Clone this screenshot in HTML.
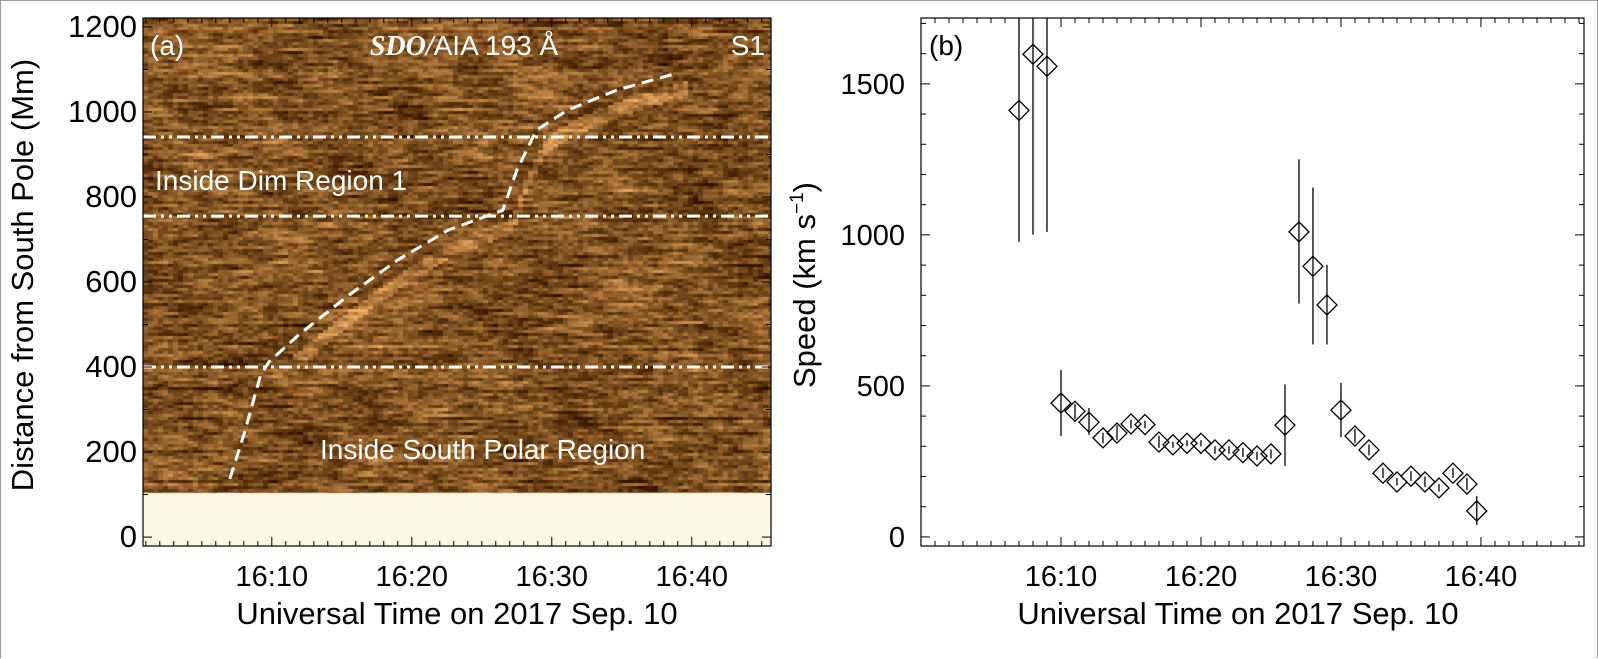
<!DOCTYPE html>
<html><head><meta charset="utf-8">
<style>
html,body{margin:0;padding:0;background:#fff;}
body{width:1598px;height:659px;position:relative;overflow:hidden;font-family:"Liberation Sans",sans-serif;}
#frame{position:absolute;left:0;top:0;width:1596px;height:657px;border:1px solid #999;border-bottom:none;}
canvas{position:absolute;}
svg{position:absolute;left:0;top:0;}
</style></head>
<body>
<div id="frame"></div>
<canvas id="bg" width="628" height="528" style="left:143px;top:18px;"></canvas>
<svg id="fig" width="1598" height="659"></svg>
<script>
// ----- Panel (b) data -----
const speedTimes = [7,8,9,10,11,12,13,14,15,16,17,18,19,20,21,22,23,24,25,26,27,28,29,30,31,32,33,34,35,36,37,38,39,39.7];
const speedValues = [1412,1598,1558,443,416,380,328,344,374,372,314,305,310,310,288,288,279,268,275,370,1010,896,768,420,334,288,211,182,201,182,162,211,175,86];
const speedErrLow = [977,1001,1010,334,390,338,310,320,360,360,295,295,300,300,275,275,265,255,260,235,773,637,637,330,310,270,195,170,185,165,150,195,155,40];
const speedErrHigh = [1900,1900,1900,553,440,427,345,370,388,385,335,315,320,320,300,300,295,282,290,505,1250,1157,901,510,358,306,228,195,218,200,175,228,196,135];
const bTicksY = [0,500,1000,1500];
const bTicksX = [10,20,30,40];
const bTickLabelsX = ["16:10","16:20","16:30","16:40"];
// ----- Panel (a) data -----
const aTicksY = [0,200,400,600,800,1000,1200];
const boundaryLines = [941,755,400];
const trackTimes = [7.0,8.0,9.2,9.8,11.9,15.5,19.0,22.6,26.5,27.5,28.9,31.1,34.6,38.9];
const trackDist = [137,240,381,412,475,569,652,722,769,863,957,1004,1051,1091];

const NS='http://www.w3.org/2000/svg';
const svg=document.getElementById('fig');
function el(tag,attrs,parent){const e=document.createElementNS(NS,tag);for(const k in attrs)e.setAttribute(k,attrs[k]);(parent||svg).appendChild(e);return e;}
function txt(x,y,s,attrs){const t=el('text',Object.assign({x:x,y:y,'font-family':'Liberation Sans, sans-serif','font-size':29,fill:'#000'},attrs||{}));t.textContent=s;return t;}

const A={x0:143,x1:771,y0:18,y1:546,tmin:0.8,tmax:45.66,dmin:-21,dmax:1221};
const B={x0:921,x1:1584,y0:18,y1:546,tmin:0,tmax:47.36,vmin:-30,vmax:1718};
const ax=t=>A.x0+(t-A.tmin)/(A.tmax-A.tmin)*(A.x1-A.x0);
const ay=d=>A.y1-(d-A.dmin)/(A.dmax-A.dmin)*(A.y1-A.y0);
const bx=t=>B.x0+(t-B.tmin)/(B.tmax-B.tmin)*(B.x1-B.x0);
const by=v=>B.y1-(v-B.vmin)/(B.vmax-B.vmin)*(B.y1-B.y0);

// ----- background texture for panel a -----
(function(){
 const c=document.getElementById('bg').getContext('2d');
 let s=12345;function r(){s=(s*1103515245+12345)%2147483648;return s/2147483648;}
 const cw=5,ch=3,H=Math.ceil((ay(104)-A.y0)/ch),W=Math.ceil(628/cw);
 const rowOff=[];for(let j=0;j<H;j++)rowOff.push((r()-0.5)*0.5);
 for(let j=0;j<H;j++){let prev=0;for(let i=0;i<W;i++){
   let n=0.6*prev+0.4*(r()-0.5)*2.4;prev=n;
   const px=A.x0+i*cw, py=A.y0+j*ch;
   const low=0.12*Math.sin(i*0.13+j*0.05)*Math.sin(j*0.09+i*0.03)+0.07*Math.sin(i*0.31-j*0.17);
   const t=A.tmin+(px-A.x0)/(A.x1-A.x0)*(A.tmax-A.tmin); const d=(A.y1-py)/(A.y1-A.y0)*(A.dmax-A.dmin)+A.dmin;
   let b=0; for(let k=0;k<trackTimes.length-1;k++){if(t>=trackTimes[k]+0.5&&t<trackTimes[k+1]+0.5){const f=(t-trackTimes[k]-0.5)/(trackTimes[k+1]-trackTimes[k]);const dd=trackDist[k]+f*(trackDist[k+1]-trackDist[k])-35;if(Math.abs(d-dd)<18&&d>420)b=0.45;}}
   let v=n*0.7+low+rowOff[j]*0.5+b;
   let R=128+v*115,G=82+v*95,Bc=34+v*65;
   c.fillStyle=`rgb(${Math.max(30,Math.min(255,R))|0},${Math.max(14,Math.min(240,G))|0},${Math.max(0,Math.min(200,Bc))|0})`;
   c.fillRect(i*cw,j*ch,cw,ch);
 }}
 c.fillStyle='#fcf8e2';c.fillRect(0,ay(104)-A.y0,628,600);
})();

// ----- panel a -----
const ga=el('g',{});
boundaryLines.forEach(d=>{const l=el('line',{x1:A.x0,x2:A.x1,y1:ay(d),y2:ay(d),stroke:'#fff','stroke-width':3,'stroke-dasharray':'13 5 3 5 3 5'},ga);
});
let dpath='';trackTimes.forEach((t,i)=>{dpath+=(i?'L':'M')+ax(t).toFixed(1)+','+ay(trackDist[i]).toFixed(1);});
const tr=el('path',{d:dpath,fill:'none',stroke:'#fff','stroke-width':3,'stroke-dasharray':'12 7'},ga);

el('rect',{x:A.x0,y:A.y0,width:A.x1-A.x0,height:A.y1-A.y0,fill:'none',stroke:'#000','stroke-width':1.2},ga);
for(let m=1;m<=45;m++){const x=ax(m);const L=(m%10===0)?9:5;el('line',{x1:x,x2:x,y1:A.y1,y2:A.y1-L,stroke:'#000'},ga);el('line',{x1:x,x2:x,y1:A.y0,y2:A.y0+L,stroke:'#000'},ga);}
for(let d=0;d<=1200;d+=100){const y=ay(d);const L=(d%200===0)?9:5;el('line',{x1:A.x0,x2:A.x0+L,y1:y,y2:y,stroke:'#000'},ga);el('line',{x1:A.x1,x2:A.x1-L,y1:y,y2:y,stroke:'#000'},ga);}
aTicksY.forEach(d=>{const t=txt(A.x0-6,ay(d)+10,String(d),{'text-anchor':'end','font-size':31});});
bTicksX.forEach((m,i)=>{const t=txt(ax(m),586,bTickLabelsX[i],{'text-anchor':'middle'});});
txt(457,624,'Universal Time on 2017 Sep. 10',{'font-size':31,'text-anchor':'middle',});
txt(33,275,'Distance from South Pole (Mm)',{'font-size':31,'text-anchor':'middle',transform:'rotate(-90 33 275)',});
txt(150,55,'(a)',{fill:'#fff','font-size':28,});
const tt=txt(464,55,'',{fill:'#fff','font-size':28,'text-anchor':'middle',});
const ts=document.createElementNS(NS,'tspan');ts.setAttribute('font-family','Liberation Serif, serif');ts.setAttribute('font-style','italic');ts.setAttribute('font-weight','bold');ts.textContent='SDO/';tt.appendChild(ts);
const ts2=document.createElementNS(NS,'tspan');ts2.textContent='AIA 193 Å';tt.appendChild(ts2);
txt(765,55,'S1',{fill:'#fff','font-size':28,'text-anchor':'end',});
txt(155,190,'Inside Dim Region 1',{fill:'#fff','font-size':28,});
txt(320,459,'Inside South Polar Region',{fill:'#fff','font-size':28,});

// ----- panel b -----
const gb=el('g',{});
el('rect',{x:B.x0,y:B.y0,width:B.x1-B.x0,height:B.y1-B.y0,fill:'#fff',stroke:'#000','stroke-width':1.2},gb);
const clip=el('clipPath',{id:'cb'},gb);el('rect',{x:B.x0,y:B.y0,width:B.x1-B.x0,height:B.y1-B.y0},clip);
for(let m=1;m<=47;m++){const x=bx(m);const L=(m%10===0)?9:5;el('line',{x1:x,x2:x,y1:B.y1,y2:B.y1-L,stroke:'#000'},gb);el('line',{x1:x,x2:x,y1:B.y0,y2:B.y0+L,stroke:'#000'},gb);}
for(let v=0;v<=1700;v+=100){const y=by(v);const L=(v%500===0)?9:5;el('line',{x1:B.x0,x2:B.x0+L,y1:y,y2:y,stroke:'#000'},gb);el('line',{x1:B.x1,x2:B.x1-L,y1:y,y2:y,stroke:'#000'},gb);}
const gd=el('g',{'clip-path':'url(#cb)',},gb);
speedTimes.forEach((t,i)=>{
 const x=bx(t),y=by(speedValues[i]);
 const e=el('line',{x1:x,x2:x,y1:by(speedErrLow[i]),y2:by(speedErrHigh[i]),stroke:'#000','stroke-width':1.3},gd);
 
 const p=el('polygon',{points:`${x},${y-10} ${x+10},${y} ${x},${y+10} ${x-10},${y}`,fill:'none',stroke:'#000','stroke-width':1.3},gd);
 
});
bTicksY.forEach(v=>{const t=txt(B.x0-16,by(v)+10,String(v),{'text-anchor':'end'});});
bTicksX.forEach((m,i)=>{const t=txt(bx(m),586,bTickLabelsX[i],{'text-anchor':'middle'});});
txt(1238,624,'Universal Time on 2017 Sep. 10',{'font-size':31,'text-anchor':'middle',});
const yt=txt(815,285,'Speed (km s',{'font-size':31,'text-anchor':'middle',transform:'rotate(-90 815 285)',});
const sup=document.createElementNS(NS,'tspan');sup.setAttribute('font-size','19');sup.setAttribute('dy','-12');sup.textContent='−1';yt.appendChild(sup);
const cl=document.createElementNS(NS,'tspan');cl.setAttribute('dy','12');cl.textContent=')';yt.appendChild(cl);
txt(929,55,'(b)',{'font-size':28,});
</script>
</body></html>
